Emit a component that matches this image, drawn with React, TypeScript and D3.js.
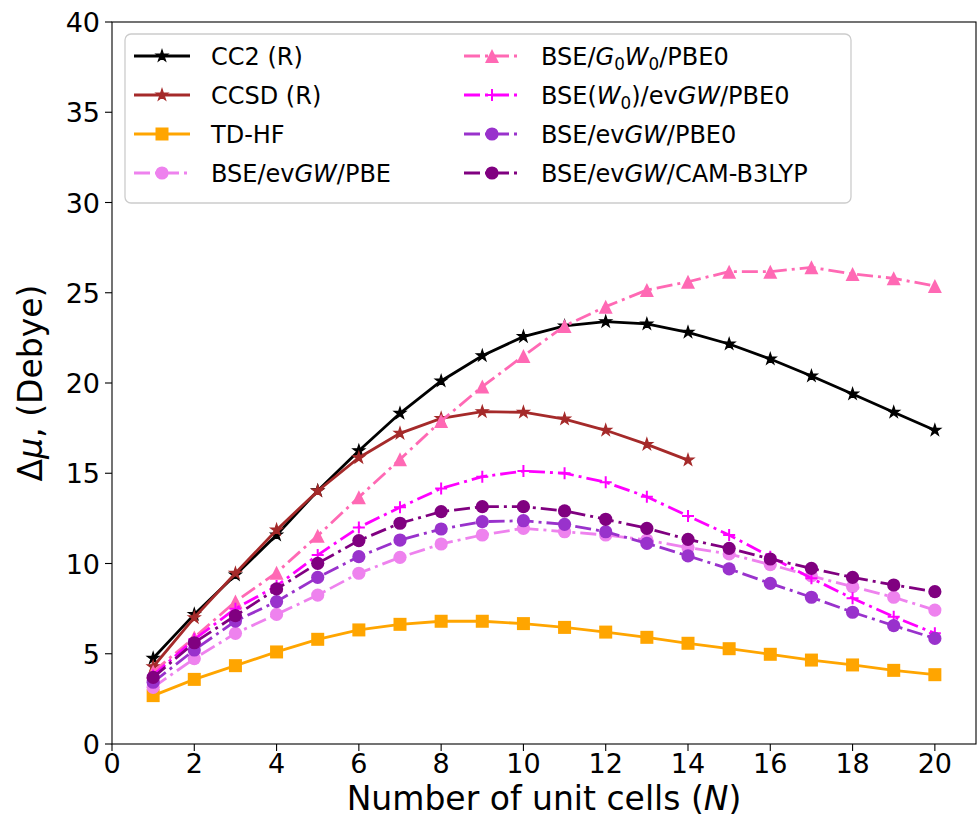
import React from "react";
import * as d3 from "d3";

// ---- data ----
const cells = [1, 2, 3, 4, 5, 6, 7, 8, 9, 10, 11, 12, 13, 14, 15, 16, 17, 18, 19, 20];
const xTicks = [0, 2, 4, 6, 8, 10, 12, 14, 16, 18, 20];
const yTicks = [0, 5, 10, 15, 20, 25, 30, 35, 40];

const cc2 = [4.75, 7.18, 9.36, 11.58, 14.03, 16.25, 18.32, 20.11, 21.51, 22.57, 23.16, 23.4, 23.27, 22.81, 22.16, 21.33, 20.39, 19.39, 18.38, 17.38];
const ccsd = [4.28, 7.0, 9.46, 11.86, 14.02, 15.86, 17.21, 18.04, 18.41, 18.38, 18.0, 17.38, 16.6, 15.73];
const tdhf = [2.68, 3.58, 4.34, 5.1, 5.8, 6.32, 6.63, 6.8, 6.8, 6.67, 6.46, 6.2, 5.91, 5.58, 5.28, 4.97, 4.65, 4.38, 4.08, 3.84];
const bsePBE = [3.14, 4.73, 6.13, 7.18, 8.25, 9.46, 10.34, 11.08, 11.58, 11.95, 11.76, 11.58, 11.3, 10.88, 10.53, 9.94, 9.31, 8.72, 8.13, 7.42];
const bseG0W0 = [4.0, 5.9, 7.89, 9.49, 11.54, 13.67, 15.77, 17.89, 19.8, 21.5, 23.16, 24.23, 25.15, 25.61, 26.17, 26.17, 26.41, 26.04, 25.8, 25.37];
const bseW0 = [3.8, 5.8, 7.5, 8.75, 10.47, 12.0, 13.11, 14.16, 14.81, 15.12, 15.0, 14.5, 13.7, 12.63, 11.58, 10.38, 9.18, 8.07, 7.05, 6.13];
const bsePBE0 = [3.42, 5.21, 6.81, 7.89, 9.23, 10.38, 11.3, 11.91, 12.32, 12.37, 12.17, 11.76, 11.12, 10.42, 9.7, 8.9, 8.13, 7.3, 6.56, 5.85];
const bseCAM = [3.69, 5.61, 7.11, 8.59, 10.01, 11.27, 12.23, 12.87, 13.15, 13.15, 12.91, 12.45, 11.95, 11.34, 10.84, 10.25, 9.73, 9.23, 8.81, 8.44];

type Seg = { t: string; it?: boolean; sub?: boolean };

const series: {
  values: number[];
  color: string;
  marker: string;
  dashed: boolean;
  label: Seg[];
}[] = [
  { values: cc2, color: "#000000", marker: "star", dashed: false, label: [{ t: "CC2 (R)" }] },
  { values: ccsd, color: "#A52A2A", marker: "star", dashed: false, label: [{ t: "CCSD (R)" }] },
  { values: tdhf, color: "#FFA500", marker: "square", dashed: false, label: [{ t: "TD-HF" }] },
  { values: bsePBE, color: "#EE82EE", marker: "circle", dashed: true, label: [{ t: "BSE/ev" }, { t: "GW", it: true }, { t: "/PBE" }] },
  { values: bseG0W0, color: "#FF69B4", marker: "triangle", dashed: true, label: [{ t: "BSE/" }, { t: "G", it: true }, { t: "0", sub: true }, { t: "W", it: true }, { t: "0", sub: true }, { t: "/PBE0" }] },
  { values: bseW0, color: "#FF00FF", marker: "plus", dashed: true, label: [{ t: "BSE(" }, { t: "W", it: true }, { t: "0", sub: true }, { t: ")/ev" }, { t: "GW", it: true }, { t: "/PBE0" }] },
  { values: bsePBE0, color: "#9932CC", marker: "circle", dashed: true, label: [{ t: "BSE/ev" }, { t: "GW", it: true }, { t: "/PBE0" }] },
  { values: bseCAM, color: "#800080", marker: "circle", dashed: true, label: [{ t: "BSE/ev" }, { t: "GW", it: true }, { t: "/CAM-B3LYP" }] },
];

const W = 977;
const H = 828;
const left = 112;
const right = 976;
const top = 22;
const bottom = 744;
const FONT = "'DejaVu Sans', sans-serif";

const x = d3.scaleLinear().domain([0, 21]).range([left, right]);
const y = d3.scaleLinear().domain([0, 40]).range([bottom, top]);

const starPath = d3.symbol().type(d3.symbolStar).size(42)()!;

function Marker({ kind, cx, cy, color }: { kind: string; cx: number; cy: number; color: string }) {
  if (kind === "star")
    return <path d={starPath} transform={`translate(${cx},${cy})`} fill={color} stroke={color} strokeWidth={1.2} />;
  if (kind === "square") return <rect x={cx - 6.5} y={cy - 6.5} width={13} height={13} fill={color} />;
  if (kind === "circle") return <circle cx={cx} cy={cy} r={6.6} fill={color} />;
  if (kind === "triangle")
    return <path d={`M${cx},${cy - 7}L${cx + 7},${cy + 7}L${cx - 7},${cy + 7}Z`} fill={color} />;
  if (kind === "plus")
    return (
      <path d={`M${cx - 6},${cy}H${cx + 6}M${cx},${cy - 6}V${cy + 6}`} stroke={color} strokeWidth={2} fill="none" />
    );
  return null;
}

function RichText({ segs, size }: { segs: Seg[]; size: number }) {
  let inSub = false;
  const shift = size * 0.22;
  return (
    <>
      {segs.map((s, i) => {
        let dy = 0;
        if (s.sub && !inSub) dy = shift;
        if (!s.sub && inSub) dy = -shift;
        inSub = !!s.sub;
        return (
          <tspan key={i} dy={dy} fontStyle={s.it ? "italic" : "normal"} fontSize={s.sub ? size * 0.7 : size}>
            {s.t}
          </tspan>
        );
      })}
    </>
  );
}

export default function App() {
  const line = d3
    .line<number>()
    .x((_, i) => x(cells[i]))
    .y((d) => y(d));
  const dash = "16,5,3,5";
  const legendRows = [56, 95, 134, 173];

  return (
    <svg width={W} height={H} style={{ position: "absolute", left: 0, top: 0, background: "#fff" }} fontFamily={FONT}>
      <rect x={0} y={0} width={W} height={H} fill="#fff" />
      {/* series */}
      {series.map((s, si) => (
        <g key={si}>
          <path
            d={line(s.values)!}
            fill="none"
            stroke={s.color}
            strokeWidth={2.8}
            strokeDasharray={s.dashed ? dash : undefined}
          />
          {s.values.map((v, i) => (
            <Marker key={i} kind={s.marker} cx={x(cells[i])} cy={y(v)} color={s.color} />
          ))}
        </g>
      ))}
      {/* axes frame */}
      <rect x={left} y={top} width={right - left} height={bottom - top} fill="none" stroke="#000" strokeWidth={1.1} />
      {xTicks.map((t) => (
        <g key={t}>
          <line x1={x(t)} x2={x(t)} y1={bottom} y2={bottom + 7} stroke="#000" strokeWidth={1.1} />
          <text x={x(t)} y={bottom + 29} textAnchor="middle" fontSize={27}>
            {t}
          </text>
        </g>
      ))}
      {yTicks.map((t) => (
        <g key={t}>
          <line x1={left - 7} x2={left} y1={y(t)} y2={y(t)} stroke="#000" strokeWidth={1.1} />
          <text x={left - 12} y={y(t) + 10} textAnchor="end" fontSize={27}>
            {t}
          </text>
        </g>
      ))}
      <text x={(left + right) / 2} y={810} textAnchor="middle" fontSize={33}>
        Number of unit cells (<tspan fontStyle="italic">N</tspan>)
      </text>
      <text transform={`translate(42,${(top + bottom) / 2}) rotate(-90)`} textAnchor="middle" fontSize={33}>
        Δ<tspan fontStyle="italic">μ</tspan>, (Debye)
      </text>
      {/* legend */}
      <rect x={125} y={34} width={726} height={169} rx={6} fill="#fff" fillOpacity={0.85} stroke="#cccccc" strokeWidth={1.3} />
      {series.map((s, i) => {
        const col = Math.floor(i / 4);
        const row = i % 4;
        const hx0 = col === 0 ? 134 : 464;
        const hx1 = hx0 + 56;
        const tx = col === 0 ? 211 : 541;
        const ry = legendRows[row];
        return (
          <g key={i}>
            <line
              x1={hx0}
              x2={hx1}
              y1={ry}
              y2={ry}
              stroke={s.color}
              strokeWidth={2.8}
              strokeDasharray={s.dashed ? dash : undefined}
            />
            <Marker kind={s.marker} cx={(hx0 + hx1) / 2} cy={ry} color={s.color} />
            <text x={tx} y={ry + 9} fontSize={24}>
              <RichText segs={s.label} size={24} />
            </text>
          </g>
        );
      })}
    </svg>
  );
}
